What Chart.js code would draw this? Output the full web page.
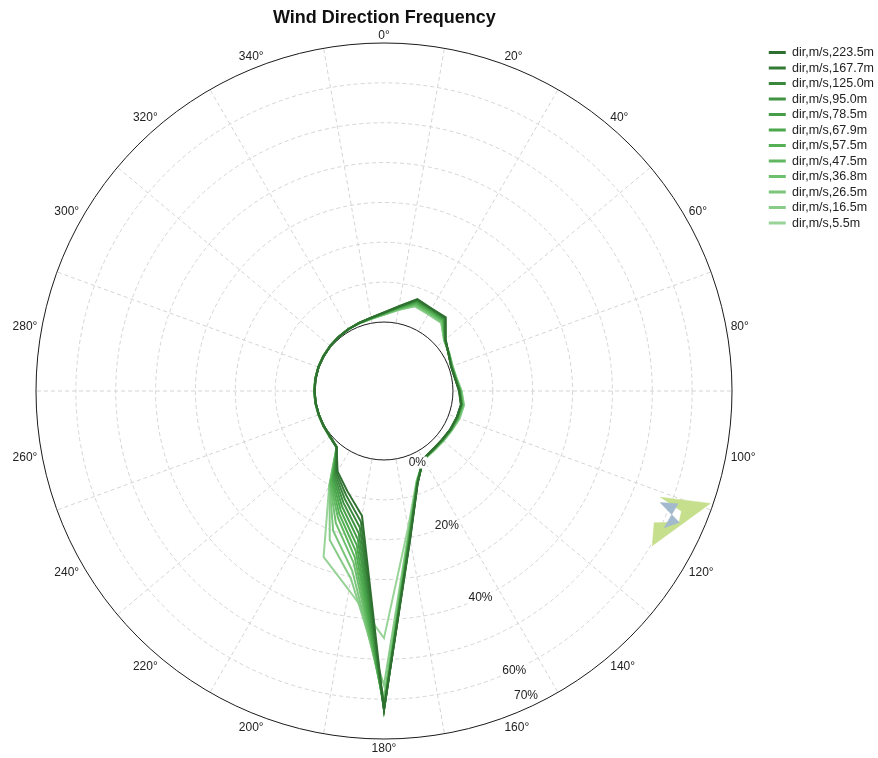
<!DOCTYPE html>
<html>
<head>
<meta charset="utf-8">
<title>Wind Direction Frequency</title>
<script src="https://cdn.jsdelivr.net/npm/chart.js@4.4.1/dist/chart.umd.min.js"></script>
<style>
  html, body { margin: 0; padding: 0; background: #fff; }
</style>
</head>
<body>
<canvas id="chart" width="878" height="758"></canvas>
<script>
// sector directions (deg) and frequency (%) per measurement height
const dirs = [0, 10, 20, 30, 40, 50, 60, 70, 80, 90, 100, 110, 120, 130, 140, 150, 160, 170,
              180, 190, 200, 210, 220, 230, 240, 250, 260, 270, 280, 290, 300, 310, 320, 330, 340, 350];

const heights = ['223.5m', '167.7m', '125.0m', '95.0m', '78.5m', '67.9m',
                 '57.5m', '47.5m', '36.8m', '26.5m', '16.5m', '5.5m'];

const s223_5 = [2.4,4.3,7.2,6.6,6.8,2.9,1.4,0.6,0.8,1.5,2.3,2.1,1.9,1.7,1.8,2.4,7.4,20.5,62.6,14.5,9.5,6.0,1.2,0.4,0.2,0.1,0.1,0.1,0.1,0.2,0.2,0.3,0.4,0.6,0.9,1.4];
const s167_7 = [2.4,4.2,7.1,6.5,6.6,2.8,1.4,0.6,0.8,1.6,2.3,2.1,1.9,1.7,1.8,2.4,7.3,20.3,62.8,16.0,10.5,6.5,1.2,0.4,0.2,0.1,0.1,0.1,0.1,0.2,0.2,0.3,0.4,0.6,0.9,1.4];
const s125_0 = [2.3,4.2,6.9,6.4,6.5,2.8,1.4,0.7,0.8,1.6,2.4,2.2,2.0,1.8,1.8,2.4,7.3,20.2,62.4,17.5,11.5,7.0,1.2,0.4,0.2,0.1,0.1,0.1,0.2,0.2,0.2,0.3,0.4,0.6,0.9,1.3];
const s95_0  = [2.3,4.1,6.8,6.3,6.4,2.7,1.4,0.7,0.9,1.7,2.4,2.2,2.0,1.8,1.9,2.4,7.2,20.0,62.7,19.0,12.5,7.5,1.1,0.4,0.2,0.1,0.1,0.1,0.2,0.2,0.2,0.3,0.4,0.6,0.9,1.3];
const s78_5  = [2.2,4.0,6.6,6.2,6.2,2.7,1.4,0.7,0.9,1.7,2.5,2.3,2.0,1.8,1.9,2.4,7.2,19.8,62.2,20.5,13.5,8.0,1.1,0.4,0.2,0.1,0.1,0.2,0.2,0.2,0.2,0.3,0.4,0.6,0.9,1.3];
const s67_9  = [2.2,3.9,6.4,6.0,6.0,2.7,1.5,0.8,0.9,1.8,2.5,2.3,2.1,1.9,1.9,2.4,7.1,19.6,62.5,22.0,14.5,8.5,1.1,0.4,0.2,0.1,0.1,0.2,0.2,0.2,0.2,0.3,0.4,0.6,0.9,1.2];
const s57_5  = [2.1,3.8,6.2,5.8,5.9,2.6,1.5,0.8,1.0,1.8,2.6,2.4,2.1,1.9,2.0,2.5,7.1,19.4,61.9,23.5,15.5,9.0,1.1,0.4,0.2,0.1,0.2,0.2,0.2,0.2,0.2,0.3,0.4,0.6,0.8,1.2];
const s47_5  = [2.1,3.7,6.0,5.6,5.7,2.6,1.5,0.8,1.0,1.9,2.7,2.5,2.2,2.0,2.0,2.5,7.0,19.2,61.6,25.0,16.5,9.5,1.1,0.5,0.2,0.1,0.2,0.2,0.2,0.2,0.3,0.3,0.4,0.6,0.8,1.2];
const s36_8  = [2.0,3.6,5.8,5.4,5.5,2.5,1.5,0.9,1.1,1.9,2.8,2.6,2.2,2.0,2.1,2.5,7.0,19.0,61.0,26.5,18.0,9.8,1.1,0.5,0.2,0.2,0.2,0.2,0.2,0.2,0.3,0.3,0.4,0.6,0.8,1.2];
const s26_5  = [1.9,3.5,5.6,5.2,5.3,2.5,1.6,0.9,1.1,2.0,2.9,2.7,2.3,2.1,2.1,2.5,6.9,18.7,59.6,28.5,20.0,10.0,1.1,0.5,0.3,0.2,0.2,0.2,0.2,0.2,0.3,0.3,0.4,0.6,0.8,1.1];
const s16_5  = [1.9,3.4,5.4,5.0,5.1,2.4,1.6,1.0,1.2,2.1,3.0,2.8,2.3,2.1,2.2,2.6,6.8,18.4,56.5,30.5,22.5,10.0,1.2,0.5,0.3,0.2,0.2,0.2,0.2,0.3,0.3,0.3,0.4,0.6,0.8,1.1];
const s5_5   = [1.8,3.3,5.3,4.9,5.0,2.4,1.6,1.0,1.2,2.2,3.1,2.9,2.4,2.2,2.2,2.6,6.6,17.5,44.7,33.4,27.0,10.2,1.2,0.5,0.3,0.2,0.2,0.2,0.3,0.3,0.3,0.3,0.4,0.6,0.8,1.1];

const series = [s223_5, s167_7, s125_0, s95_0, s78_5, s67_9, s57_5, s47_5, s36_8, s26_5, s16_5, s5_5];

const colors = ['#2f7030', '#347c36', '#3a883c', '#3f9342', '#459e47', '#4ca84d',
                '#55b055', '#61b861', '#6ebf6e', '#7bc67b', '#89cc89', '#98d398'];

// the small two-coloured mark near 110-120 deg
const markGreenDirs = [109, 111, 112, 114, 116, 120];
const markGreenVals = [69.3, 57.0, 63.2, 63.7, 58.1, 60.4];
const markBlueDirs = [111, 112, 114, 116];
const markBlueVals = [61.7, 57.4, 63.8, 60.9];

// axis ticks
const angleTicks = [0, 20, 40, 60, 80, 100, 120, 140, 160, 180, 200, 220, 240, 260, 280, 300, 320, 340];
const gridSteps = [0, 10, 20, 30, 40, 50, 60, 70];
const pctTicks = [0, 20, 40, 60, 70];
const pctAngle = 155;

const FONT = '"Liberation Sans", Arial, sans-serif';
Chart.defaults.font.family = FONT;

// one label per degree, so directions index straight into the radial scale
const labels = Array.from({ length: 360 }, (_, d) => d % 20 === 0 ? d + '°' : '');

function toFull(ds, vals) {
    const out = new Array(360).fill(null);
    ds.forEach((d, k) => { out[d] = vals[k]; });
    return out;
}

const datasets = series.map((vals, i) => ({
    label: 'dir,m/s,' + heights[i],
    data: toFull(dirs, vals),
    borderColor: colors[i],
    backgroundColor: colors[i],
    borderWidth: 2,
    fill: false,
    spanGaps: true,
    pointRadius: 0
}));

datasets.push({
    label: '',
    data: toFull(markBlueDirs, markBlueVals),
    borderColor: '#a3b9cd',
    backgroundColor: '#a3b9cd',
    borderWidth: 0.5,
    fill: 'shape',
    spanGaps: true,
    pointRadius: 0
});
datasets.push({
    label: '',
    data: toFull(markGreenDirs, markGreenVals),
    borderColor: '#c6df8c',
    backgroundColor: '#c6df8c',
    borderWidth: 0.5,
    fill: 'shape',
    spanGaps: true,
    pointRadius: 0
});

const roseDecor = {
    id: 'roseDecor',
    beforeDatasetsDraw(chart) {
        const s = chart.scales.r, ctx = chart.ctx;
        const r0 = s.getDistanceFromCenterForValue(0);
        ctx.save();
        ctx.beginPath();
        ctx.arc(s.xCenter, s.yCenter, r0, 0, Math.PI * 2);
        ctx.fillStyle = '#fff';
        ctx.fill();
        ctx.strokeStyle = '#1a1a1a';
        ctx.lineWidth = 1;
        ctx.stroke();
        ctx.restore();
    },
    afterDatasetsDraw(chart) {
        const s = chart.scales.r, ctx = chart.ctx;
        const r0 = s.getDistanceFromCenterForValue(0);
        ctx.save();
        ctx.font = '12px ' + FONT;
        ctx.textAlign = 'center';
        ctx.textBaseline = 'middle';
        pctTicks.forEach(v => {
            let d = s.getDistanceFromCenterForValue(v);
            d = Math.min(Math.max(d, r0 + 10), s.drawingArea - 12);
            const p = s.getPointPosition(pctAngle, d);
            const t = v + '%';
            const w = ctx.measureText(t).width;
            ctx.fillStyle = '#fff';
            ctx.fillRect(p.x - w / 2 - 1, p.y - 6, w + 2, 12);
            ctx.fillStyle = '#222';
            ctx.fillText(t, p.x, p.y);
        });
        ctx.restore();
    },
    afterDraw(chart) {
        const s = chart.scales.r, ctx = chart.ctx;
        ctx.save();
        ctx.font = '12px ' + FONT;
        ctx.fillStyle = '#222';
        angleTicks.forEach(a => {
            const p = s.getPointPosition(a, s.drawingArea + 4);
            ctx.textAlign = (a === 0 || a === 180) ? 'center' : (a < 180 ? 'left' : 'right');
            ctx.textBaseline = (a === 90 || a === 270) ? 'middle' : ((a < 90 || a > 270) ? 'alphabetic' : 'top');
            ctx.fillText(labels[a], p.x, p.y);
        });
        ctx.restore();
    }
};

new Chart(document.getElementById('chart').getContext('2d'), {
    type: 'radar',
    data: { labels: labels, datasets: datasets },
    plugins: [roseDecor],
    options: {
        responsive: false,
        animation: false,
        events: [],
        layout: { padding: { left: 3, right: -6, top: 0, bottom: 19 } },
        elements: { line: { tension: 0 }, point: { radius: 0 } },
        scales: {
            r: {
                min: -17.3,
                max: 70,
                afterBuildTicks: (scale) => {
                    scale.ticks = gridSteps.map(v => ({ value: v }));
                },
                ticks: { display: false },
                pointLabels: { display: false },
                grid: {
                    circular: true,
                    color: (c) => (c.tick && c.tick.value === 70) ? '#1a1a1a' : '#d4d4d4',
                    lineWidth: (c) => (c.tick && c.tick.value === 0) ? 0 : 1
                },
                border: {
                    dash: (c) => (c.tick && c.tick.value === 70) ? [] : [4, 3]
                },
                angleLines: {
                    color: '#d4d4d4',
                    lineWidth: (c) => (c.index % 20 === 10) ? 1 : 0,
                    borderDash: [4, 3]
                }
            }
        },
        plugins: {
            tooltip: { enabled: false },
            title: {
                display: true,
                text: 'Wind Direction Frequency',
                fullSize: false,
                color: '#111',
                font: { size: 18, weight: 'bold' },
                padding: { top: 7.7, bottom: 13.7 }
            },
            legend: {
                position: 'right',
                align: 'start',
                title: { display: true, text: ' ', font: { size: 10 }, padding: { top: 31.3, bottom: 0 } },
                labels: {
                    usePointStyle: true,
                    pointStyle: 'line',
                    pointStyleWidth: 17,
                    color: '#222',
                    font: { size: 12.5 },
                    padding: 3,
                    generateLabels: (chart) => Chart.defaults.plugins.legend.labels.generateLabels(chart)
                        .filter(it => it.text)
                        .map(it => Object.assign(it, { lineWidth: 3 }))
                }
            }
        }
    }
});
</script>
</body>
</html>
